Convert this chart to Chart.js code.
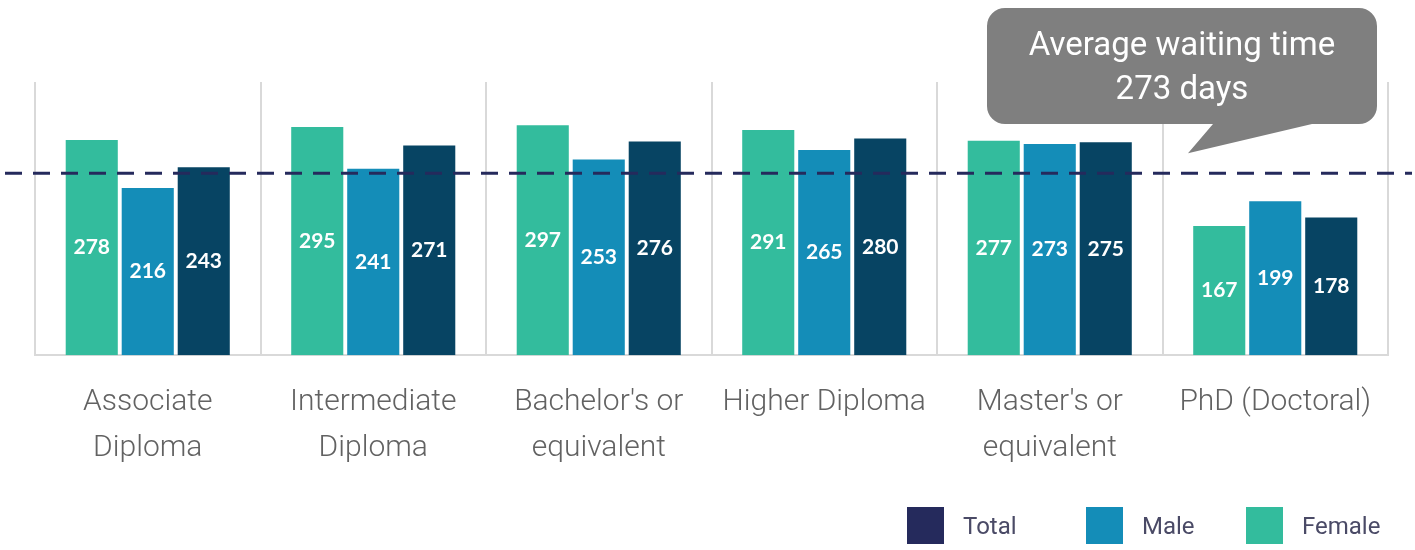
<!DOCTYPE html>
<html>
<head>
<meta charset="utf-8">
<script src="https://cdn.jsdelivr.net/npm/chart.js@4/dist/chart.umd.min.js"></script>
<style>
  html, body { margin: 0; padding: 0; background: #fff; }
  #wrap { position: relative; width: 1415px; height: 550px; overflow: hidden; }
  #legend { position: absolute; left: 907px; top: 507px; display: flex; font: 400 24px Roboto, sans-serif; color: #4a4a66; }
  .item { display: flex; align-items: center; height: 37px; }
  .box { width: 37px; height: 37px; margin-right: 19px; }
</style>
</head>
<body>
<div id="wrap">
  <canvas id="myChart" width="1415" height="550"></canvas>
  <div id="legend"></div>
</div>
<script>
const categories = [
  ["Associate", "Diploma"],
  ["Intermediate", "Diploma"],
  ["Bachelor's or", "equivalent"],
  "Higher Diploma",
  ["Master's or", "equivalent"],
  "PhD (Doctoral)",
];
const female = [278, 295, 297, 291, 277, 167];
const male = [216, 241, 253, 265, 273, 199];
const total = [243, 271, 276, 280, 275, 178];
const avgDays = 273;       // text in the callout
const avgLineLevel = 235;  // where the dashed line sits on the picture
const calloutLines = ["Average waiting time", avgDays + " days"];

const [teal, blue, dark, navy] = ["#33bc9d", "#148db8", "#074463", "#252a5c"];

const legendItems = [
  { label: "Total", color: navy, width: 179 },
  { label: "Male", color: blue, width: 160 },
  { label: "Female", color: teal, width: 160 },
];
const legendEl = document.getElementById("legend");
legendItems.forEach((it) => {
  const d = document.createElement("div");
  d.className = "item";
  d.style.width = it.width + "px";
  d.innerHTML = '<span class="box" style="background:' + it.color + '"></span><span>' + it.label + "</span>";
  legendEl.appendChild(d);
});

// values written in the middle of each bar
const barLabels = {
  id: "barLabels",
  afterDatasetsDraw(chart) {
    const { ctx } = chart;
    ctx.save();
    ctx.fillStyle = "#fff";
    ctx.font = "bold 21px Lato, sans-serif";
    ctx.textAlign = "center";
    ctx.textBaseline = "middle";
    chart.data.datasets.forEach((ds, i) => {
      chart.getDatasetMeta(i).data.forEach((bar, j) => {
        ctx.fillText(ds.data[j], bar.x, (bar.y + bar.base) / 2);
      });
    });
    ctx.restore();
  },
};

// dashed average line + speech bubble
const avgLine = {
  id: "avgLine",
  afterDatasetsDraw(chart) {
    const { ctx } = chart;
    const y = chart.scales.y.getPixelForValue(avgLineLevel);
    ctx.save();
    ctx.strokeStyle = navy;
    ctx.lineWidth = 3;
    ctx.setLineDash([17, 11]);
    ctx.beginPath();
    ctx.moveTo(5, y);
    ctx.lineTo(1412, y);
    ctx.stroke();
    ctx.setLineDash([]);

    // bubble
    const bx = 987, by = 8, bw = 390, bh = 116, r = 18;
    ctx.fillStyle = "#7f7f7f";
    ctx.beginPath();
    ctx.moveTo(bx + r, by);
    ctx.arcTo(bx + bw, by, bx + bw, by + bh, r);
    ctx.arcTo(bx + bw, by + bh, bx, by + bh, r);
    ctx.lineTo(1312, by + bh);
    ctx.lineTo(1188, y - 20);
    ctx.lineTo(1213, by + bh);
    ctx.arcTo(bx, by + bh, bx, by, r);
    ctx.arcTo(bx, by, bx + bw, by, r);
    ctx.closePath();
    ctx.fill();
    ctx.fillStyle = "#fff";
    ctx.font = "400 33px Roboto, sans-serif";
    ctx.textAlign = "center";
    ctx.textBaseline = "middle";
    ctx.fillText(calloutLines[0], 1182, 47);
    ctx.fillText(calloutLines[1], 1182, 91);
    ctx.restore();
  },
};

const ctx = document.getElementById("myChart");
const myChart = new Chart(ctx, {
  type: "bar",
  data: {
    labels: categories,
    datasets: [
      { label: "Female", data: female, backgroundColor: teal },
      { label: "Male", data: male, backgroundColor: blue },
      { label: "Total", data: total, backgroundColor: dark },
    ],
  },
  options: {
    responsive: false,
    animation: false,
    datasets: {
      bar: { barPercentage: 0.93, categoryPercentage: 0.745 },
    },
    layout: { padding: { top: 82, left: 35, right: 27, bottom: 55 } },
    plugins: {
      legend: { display: false },
      tooltip: { enabled: false },
    },
    scales: {
      x: {
        grid: { color: "#d9d9d9", lineWidth: 2, drawTicks: false, offset: true },
        border: { color: "#d9d9d9", width: 2 },
        ticks: {
          color: "#626262",
          padding: 24,
          maxRotation: 0,
          font: { family: "Roboto", size: 30, weight: 300, lineHeight: 1.53 },
        },
      },
      y: { display: false, min: 0, max: 353 },
    },
  },
  plugins: [barLabels, avgLine],
});
</script>
</body>
</html>
